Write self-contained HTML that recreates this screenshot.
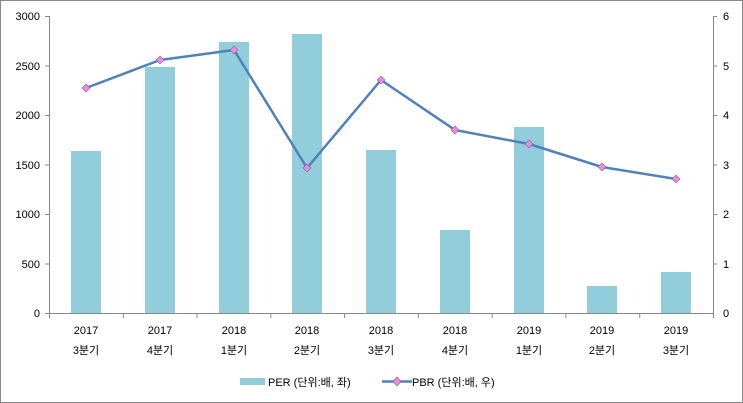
<!DOCTYPE html>
<html><head><meta charset="utf-8"><style>body{margin:0;background:#fff}svg{display:block}</style></head><body>
<svg width="743" height="403" xmlns="http://www.w3.org/2000/svg" font-family="'Liberation Sans','Noto Sans CJK KR',sans-serif" font-size="11" fill="#000">
<rect x="0.5" y="0.5" width="742" height="402" fill="#fff" stroke="#888"/>
<g stroke="#888" stroke-width="1">
<line x1="49.5" y1="16" x2="49.5" y2="313"/>
<line x1="713.5" y1="16" x2="713.5" y2="313"/>
<line x1="49" y1="313.5" x2="713" y2="313.5"/>
<line x1="45" y1="16.5" x2="49" y2="16.5"/><line x1="45" y1="66" x2="49" y2="66"/><line x1="45" y1="115.5" x2="49" y2="115.5"/><line x1="45" y1="165" x2="49" y2="165"/><line x1="45" y1="214.5" x2="49" y2="214.5"/><line x1="45" y1="264" x2="49" y2="264"/><line x1="45" y1="313.5" x2="49" y2="313.5"/>
<line x1="713" y1="16.5" x2="717" y2="16.5"/><line x1="713" y1="66" x2="717" y2="66"/><line x1="713" y1="115.5" x2="717" y2="115.5"/><line x1="713" y1="165" x2="717" y2="165"/><line x1="713" y1="214.5" x2="717" y2="214.5"/><line x1="713" y1="264" x2="717" y2="264"/>
<line x1="49.5" y1="313" x2="49.5" y2="318"/><line x1="123.3" y1="313" x2="123.3" y2="318"/><line x1="197" y1="313" x2="197" y2="318"/><line x1="270.8" y1="313" x2="270.8" y2="318"/><line x1="344.6" y1="313" x2="344.6" y2="318"/><line x1="418.3" y1="313" x2="418.3" y2="318"/><line x1="492.1" y1="313" x2="492.1" y2="318"/><line x1="565.9" y1="313" x2="565.9" y2="318"/><line x1="639.7" y1="313" x2="639.7" y2="318"/><line x1="713.5" y1="313" x2="713.5" y2="318"/>
</g>
<g text-anchor="end">
<text x="40" y="20">3000</text><text x="40" y="70">2500</text><text x="40" y="119">2000</text><text x="40" y="169">1500</text><text x="40" y="218">1000</text><text x="40" y="268">500</text><text x="40" y="317">0</text>
</g>
<g>
<text x="723" y="20">6</text><text x="723" y="70">5</text><text x="723" y="119">4</text><text x="723" y="169">3</text><text x="723" y="218">2</text><text x="723" y="268">1</text><text x="723" y="317">0</text>
</g>
<g fill="#92CDDC">
<rect x="71" y="151" width="30" height="162"/>
<rect x="145" y="67" width="30" height="246"/>
<rect x="219" y="42" width="30" height="271"/>
<rect x="292" y="34" width="30" height="279"/>
<rect x="366" y="150" width="30" height="163"/>
<rect x="440" y="230" width="30" height="83"/>
<rect x="514" y="127" width="30" height="186"/>
<rect x="587" y="286" width="30" height="27"/>
<rect x="661" y="272" width="30" height="41"/>
</g>
<polyline fill="none" stroke="#4F81BD" stroke-width="2.5" stroke-linejoin="round" points="86,88 160,60 234,50 307,168 381,80 455,130 529,144 602,167 676,179"/>
<g fill="#E58FDB" stroke="#9A5AA0" stroke-width="0.6">
<path d="M86 84l4 4-4 4-4-4z"/><path d="M160 56l4 4-4 4-4-4z"/><path d="M234 46l4 4-4 4-4-4z"/><path d="M307 164l4 4-4 4-4-4z"/><path d="M381 76l4 4-4 4-4-4z"/><path d="M455 126l4 4-4 4-4-4z"/><path d="M529 140l4 4-4 4-4-4z"/><path d="M602 163l4 4-4 4-4-4z"/><path d="M676 175l4 4-4 4-4-4z"/>
</g>
<g text-anchor="middle">
<text x="86" y="334">2017</text><text x="86" y="354">3분기</text>
<text x="160" y="334">2017</text><text x="160" y="354">4분기</text>
<text x="234" y="334">2018</text><text x="234" y="354">1분기</text>
<text x="307" y="334">2018</text><text x="307" y="354">2분기</text>
<text x="381" y="334">2018</text><text x="381" y="354">3분기</text>
<text x="455" y="334">2018</text><text x="455" y="354">4분기</text>
<text x="529" y="334">2019</text><text x="529" y="354">1분기</text>
<text x="602" y="334">2019</text><text x="602" y="354">2분기</text>
<text x="676" y="334">2019</text><text x="676" y="354">3분기</text>
</g>
<rect x="240" y="378" width="25" height="7" fill="#92CDDC"/>
<text x="268" y="386">PER (단위:배, 좌)</text>
<line x1="382" y1="381.5" x2="412" y2="381.5" stroke="#4F81BD" stroke-width="2.5"/>
<path d="M397 377l4 4.5-4 4.5-4-4.5z" fill="#E58FDB" stroke="#9A5AA0" stroke-width="0.6"/>
<text x="412" y="386">PBR (단위:배, 우)</text>
</svg>
</body></html>
